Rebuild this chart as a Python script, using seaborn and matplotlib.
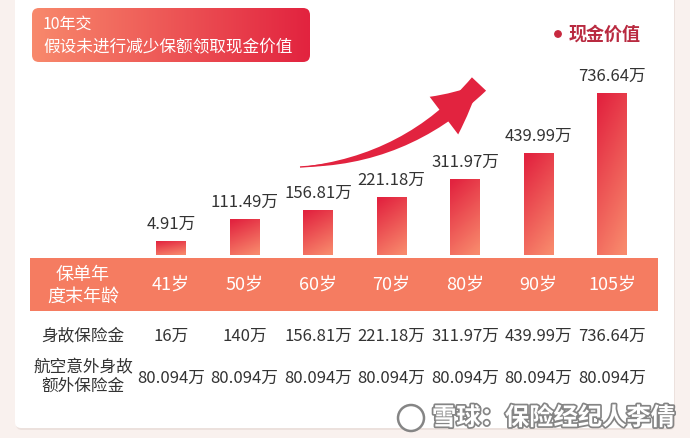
import numpy as np
import seaborn as sns
import matplotlib.pyplot as plt
from matplotlib import patheffects, transforms
from matplotlib.colors import to_rgb
from matplotlib.patches import FancyBboxPatch, FancyArrowPatch, Rectangle, Circle

AGES = ["41岁", "50岁", "60岁", "70岁", "80岁", "90岁", "105岁"]
CASH_VALUE = [4.91, 111.49, 156.81, 221.18, 311.97, 439.99, 736.64]  # 万
DEATH_BENEFIT = [16, 140, 156.81, 221.18, 311.97, 439.99, 736.64]
AIR_ACCIDENT_EXTRA = [80.094, 80.094, 80.094, 80.094, 80.094, 80.094, 80.094]

TITLE_LINES = ["10年交", "假设未进行减少保额领取现金价值"]
LEGEND_LABEL = "现金价值"
BAND_LABEL = "保单年\n度末年龄"
ROW_LABELS = ["身故保险金", "航空意外身故\n额外保险金"]
WATERMARK = "雪球：保险经纪人李倩"

CRIMSON = "#e2233f"
SALMON = "#f8896c"
BAND = "#f57c61"
TEXT = "#333333"
BAR_FLOOR = -65  # the original draws bars from below zero so small values stay visible

W, H = 690, 438

sns.set_theme(style="white")
plt.rcParams["font.family"] = ["Noto Sans CJK SC", "DejaVu Sans"]


def fill_gradient(ax, extent, t, clip, zorder):
    c0, c1 = np.array(to_rgb(SALMON)), np.array(to_rgb(CRIMSON))
    img = c0 + (c1 - c0) * t[..., None]
    im = ax.imshow(img, extent=extent, aspect="auto", origin="lower",
                   interpolation="bilinear", zorder=zorder)
    im.set_clip_path(clip)


def main():
    fig = plt.figure(figsize=(W / 100, H / 100), dpi=100)
    fig.patch.set_facecolor("#f9f1ee")

    # background layer in pixel coordinates
    bg = fig.add_axes([0, 0, 1, 1])
    bg.set_axis_off()

    bg.add_patch(FancyBboxPatch((16, -18), 659, 448, boxstyle="round,pad=0,rounding_size=6",
                                fc="#ece1dd", ec="none", zorder=0))
    bg.add_patch(FancyBboxPatch((15, -20), 659, 448, boxstyle="round,pad=0,rounding_size=6",
                                fc="white", ec="none", zorder=0.5))

    title_box = FancyBboxPatch((32, 8), 278, 54, boxstyle="round,pad=0,rounding_size=7",
                               fc="none", ec="none", zorder=1)
    bg.add_patch(title_box)
    xx = np.linspace(0, 1, 200)[None, :].repeat(10, axis=0)
    fill_gradient(bg, [32, 310, 62, 8], xx, title_box, 1)
    bg.text(43, 24, TITLE_LINES[0], color="white", fontsize=11.5, va="center", zorder=2)
    bg.text(43, 47, TITLE_LINES[1], color="white", fontsize=12, va="center", zorder=2)

    bg.add_patch(Circle((558, 34), 3.2, color="#c8283f", zorder=2))
    bg.text(569, 34, LEGEND_LABEL, color="#b92a40", fontsize=13, va="center",
            fontweight="bold", zorder=2)

    # curved arrow: a tapering wedge body plus a filled head on the same arc
    tail, tip = (300, 167), (479, 84)
    bg.add_patch(FancyArrowPatch(
        tip, tail, connectionstyle="arc3,rad=-0.2",
        arrowstyle="wedge,tail_width=0.7,shrink_factor=0.5",
        mutation_scale=20, shrinkA=0, shrinkB=0, fc=CRIMSON, ec="none", zorder=2))
    bg.add_patch(FancyArrowPatch(
        tail, tip, connectionstyle="arc3,rad=0.2",
        arrowstyle="simple,head_length=1.7,head_width=1.7,tail_width=0.05",
        mutation_scale=20, shrinkA=0, shrinkB=0, fc=CRIMSON, ec="none", zorder=2))

    bg.add_patch(Rectangle((30, 258), 628, 53, fc=BAND, ec="none", zorder=1))

    # bar layer
    ax = fig.add_axes([134.25 / W, (H - 255) / H, 514.5 / W, 185 / H])
    ax.patch.set_alpha(0)
    sns.barplot(x=AGES, y=CASH_VALUE, ax=ax, width=0.4, color=CRIMSON, saturation=1)
    bars = ax.containers[0]
    yy, xg = np.mgrid[0:1:100j, 0:1:40j]
    for p in bars:
        top = p.get_y() + p.get_height()
        p.set_y(BAR_FLOOR)
        p.set_height(top - BAR_FLOOR)
        p.set_facecolor("none")
        p.set_edgecolor("none")
        x0 = p.get_x()
        t = np.clip(0.8 * yy + 0.3 * (1 - xg) - 0.05, 0, 1)
        fill_gradient(ax, [x0, x0 + p.get_width(), BAR_FLOOR, top], t, p, 1)
    ax.bar_label(bars, labels=[f"{v:g}万" for v in CASH_VALUE], padding=6,
                 fontsize=12, color=TEXT)
    ax.set_xlim(-0.5, len(AGES) - 0.5)
    ax.set_ylim(BAR_FLOOR, 849)
    ax.set_axis_off()

    bg.set_xlim(0, W)
    bg.set_ylim(H, 0)

    # table under the bars: x from the bar axis, y in pixels
    trans = transforms.blended_transform_factory(ax.transData, bg.transData)
    bg.text(83, 286, BAND_LABEL, color="white", fontsize=13, ha="center", va="center",
            linespacing=1.3, zorder=3)
    bg.text(83, 336, ROW_LABELS[0], color=TEXT, fontsize=12, ha="center", va="center")
    bg.text(83, 377, ROW_LABELS[1], color=TEXT, fontsize=12, ha="center", va="center",
            linespacing=1.15)
    for i, age in enumerate(AGES):
        ax.text(i, 285, age, transform=trans, color="white", fontsize=13,
                ha="center", va="center", zorder=3)
        ax.text(i, 336, f"{DEATH_BENEFIT[i]:g}万", transform=trans, color=TEXT,
                fontsize=12, ha="center", va="center")
        ax.text(i, 378, f"{AIR_ACCIDENT_EXTRA[i]:g}万", transform=trans, color=TEXT,
                fontsize=12, ha="center", va="center")

    # watermark
    stroke = [patheffects.withStroke(linewidth=2.5, foreground="#858585")]
    bg.add_patch(Circle((411, 418), 13, fc="white", ec="#858585", lw=1.8, zorder=4))
    bg.text(432, 418, WATERMARK, color="white", fontsize=17.5, fontweight="bold",
            va="center", path_effects=stroke, zorder=4)

    fig.savefig("out.png", dpi=100)


if __name__ == "__main__":
    main()
